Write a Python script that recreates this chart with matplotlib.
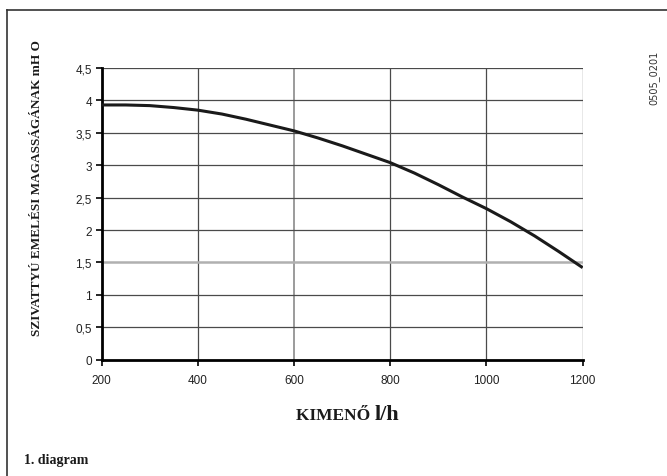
import numpy as np
import matplotlib.pyplot as plt
from matplotlib.lines import Line2D

# pump curve
flow = [200, 250, 300, 350, 400, 450, 500, 550, 600, 650, 700, 750, 800,
        850, 900, 950, 1000, 1050, 1100, 1150, 1200]
head = [3.93, 3.93, 3.92, 3.89, 3.85, 3.79, 3.71, 3.62, 3.53, 3.42, 3.30,
        3.17, 3.04, 2.88, 2.70, 2.51, 2.33, 2.13, 1.91, 1.67, 1.42]
xticks = [200, 400, 600, 800, 1000, 1200]
yticks = [0, 0.5, 1, 1.5, 2, 2.5, 3, 3.5, 4, 4.5]
ytick_labels = ['0', '0,5', '1', '1,5', '2', '2,5', '3', '3,5', '4', '4,5']

fig = plt.figure(figsize=(6.67, 4.77), dpi=100)
ax = fig.add_axes([0.1525, 0.2438, 0.7211, 0.6115])

# grid
for x in xticks[1:]:
    c = '#8a8a8a' if x == 600 else '#4a4a4a'
    ax.axvline(x, color=c, lw=0.9 if x != 600 else 1.2, zorder=1)
for y in yticks[1:]:
    if y == 1.5:
        ax.axhline(y, color='#b0b0b0', lw=1.8, zorder=1)
    else:
        ax.axhline(y, color='#4a4a4a', lw=0.9, zorder=1)

ax.plot(flow, head, color='#1a1a1a', lw=2.2, zorder=3,
        solid_capstyle='butt', solid_joinstyle='round')

ax.set_xlim(200, 1200)
ax.set_ylim(0, 4.5)
ax.set_xticks(xticks)
ax.set_yticks(yticks)
ax.set_yticklabels(ytick_labels)
for lab in ax.get_xticklabels() + ax.get_yticklabels():
    lab.set_fontfamily('Liberation Sans')
    lab.set_fontsize(8.5)
    lab.set_color('#222222')
ax.tick_params(direction='out', length=4, width=1.2, color='black', pad=3)
ax.tick_params(axis='x', pad=6)

for s in ['top', 'right']:
    ax.spines[s].set_visible(False)
ax.spines['left'].set_linewidth(2)
ax.spines['bottom'].set_linewidth(2)

serif = 'Liberation Serif'
fig.text(0.0555, 0.605, 'SZIVATTYÚ EMELÉSI MAGASSÁGÁNAK mH O', rotation=90,
         ha='center', va='center', family=serif, weight='bold', fontsize=9.5,
         color='#1a1a1a')
fig.text(0.562, 0.119, 'KIMENŐ ', ha='right', va='baseline', family=serif,
         weight='bold', fontsize=12.5, color='#1a1a1a')
fig.text(0.562, 0.119, 'l/h', ha='left', va='baseline', family=serif,
         weight='bold', fontsize=16, color='#1a1a1a')
fig.text(0.036, 0.027, '1. diagram', ha='left', va='baseline', family=serif,
         weight='bold', fontsize=10, color='#1a1a1a')
fig.text(0.981, 0.837, '0505_0201', rotation=90, ha='center', va='center',
         family='DejaVu Sans', fontsize=7, color='#333333')

# cropped frame: top and left edge only
fig.add_artist(Line2D([0.011, 1.0], [0.977, 0.977], color='#333333', lw=1.2))
fig.add_artist(Line2D([0.011, 0.011], [0.0, 0.977], color='#333333', lw=1.2))

fig.savefig('out.png', dpi=100)
